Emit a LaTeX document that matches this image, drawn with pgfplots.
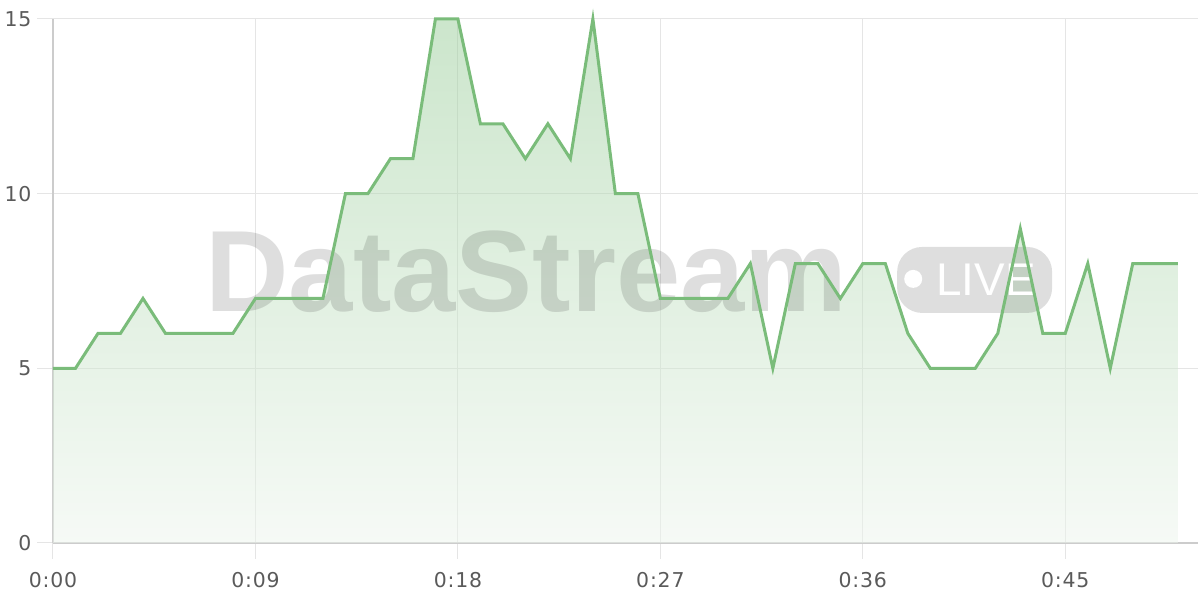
\documentclass[border=0pt]{standalone}
\usepackage{fontspec}
\setmainfont[LetterSpace=4]{DejaVu Sans}
\newfontfamily\wmfont{Liberation Sans}
\usepackage{pgfplots}
\pgfplotsset{compat=1.18}
\usepackage{pgfplotstable}

\definecolor{linegreen}{RGB}{122,188,122}
\definecolor{gridgray}{RGB}{229,229,229}
\definecolor{axisgray}{RGB}{204,204,204}
\definecolor{labelgray}{RGB}{90,90,90}
\definecolor{filltop}{RGB}{153,205,153}
\definecolor{fillbot}{RGB}{237,245,237}

% viewers per second
\pgfplotstableread{
t v
0 5
1 5
2 6
3 6
4 7
5 6
6 6
7 6
8 6
9 7
10 7
11 7
12 7
13 10
14 10
15 11
16 11
17 15
18 15
19 12
20 12
21 11
22 12
23 11
24 15
25 10
26 10
27 7
28 7
29 7
30 7
31 8
32 5
33 8
34 8
35 7
36 8
37 8
38 6
39 5
40 5
41 5
42 6
43 9
44 6
45 6
46 8
47 5
48 8
49 8
50 8
}\counts

\begin{document}
\begin{tikzpicture}
\begin{axis}[
  name=ax,
  scale only axis,
  width=1145bp, height=524bp,
  xmin=0, xmax=50.9, ymin=0, ymax=15,
  xtick={0,9,18,27,36,45},
  xticklabels={0:00,0:09,0:18,0:27,0:36,0:45},
  ytick={0,5,10,15},
  axis x line*=bottom, axis y line*=left,
  axis line style={axisgray, line width=1.5bp, -},
  grid=major,
  major grid style={gridgray, line width=1bp},
  xtick align=outside, ytick align=outside,
  major tick length=16bp,
  every tick/.style={gridgray, line width=1bp},
  tick label style={font=\fontsize{20.5}{20.5}\selectfont, text=labelgray},
  xticklabel style={anchor=north, yshift=-10bp},
  yticklabel style={anchor=east, xshift=-2bp},
  /pgf/number format/assume math mode=true,
  clip=false,
]
\addplot[draw=none, top color=filltop, bottom color=fillbot, fill opacity=0.5]
  table[x=t, y=v] {\counts} \closedcycle;

% watermark
\node[inner sep=0, text=black, text opacity=0.13,
  font=\wmfont\bfseries\fontsize{116}{116}\selectfont] at (axis cs:21.05,7.77) {DataStream};
\node[rounded corners=25bp, fill=black, fill opacity=0.13, minimum width=155bp,
  minimum height=66bp, inner sep=0] at (axis cs:40.97,7.53) {};
\fill[white] (axis cs:38.24,7.56) circle[radius=9bp];
\node[inner sep=0, text=white, font=\wmfont\fontsize{46}{46}\selectfont]
  at (axis cs:41.48,7.54) {LIVE};

\addplot[linegreen, line width=3bp] table[x=t, y=v] {\counts};
\end{axis}
\pgfresetboundingbox
\path ([shift={(-53bp,-57bp)}]ax.south west) rectangle ([shift={(2bp,19bp)}]ax.north east);
\end{tikzpicture}
\end{document}
